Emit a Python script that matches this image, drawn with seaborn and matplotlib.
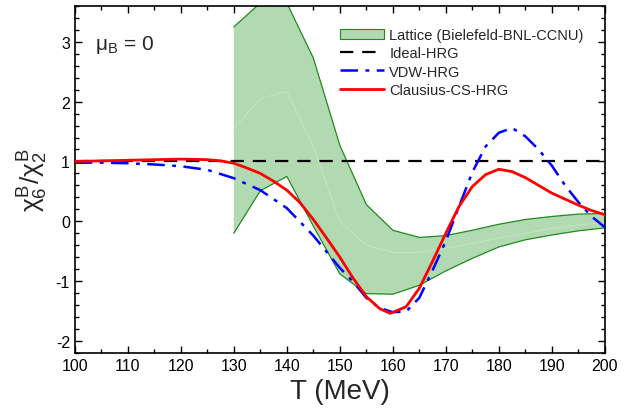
import numpy as np
import pandas as pd
import matplotlib
matplotlib.use("Agg")
import matplotlib.pyplot as plt
import seaborn as sns
from matplotlib.patches import Patch
from matplotlib.lines import Line2D
from matplotlib.ticker import MultipleLocator

# lattice band (Bielefeld-BNL-CCNU)
T_lat = [130, 135, 140, 145, 150, 155, 160, 165, 170, 175, 180, 185, 190, 195, 200]
lat_hi = [3.25, 3.65, 3.65, 2.73, 1.27, 0.28, -0.15, -0.27, -0.24, -0.15, -0.05, 0.03, 0.08, 0.12, 0.13]
lat_mid = [1.55, 2.05, 2.17, 1.25, 0.0, -0.4, -0.52, -0.52, -0.45, -0.37, -0.28, -0.2, -0.12, -0.06, -0.02]
lat_lo = [-0.2, 0.51, 0.75, -0.08, -0.88, -1.21, -1.22, -1.07, -0.83, -0.62, -0.43, -0.31, -0.23, -0.16, -0.11]

# HRG model curves
T_ideal = [100, 200]
ideal = [1.0, 1.0]

T_vdw = [100, 105, 110, 115, 120, 125, 130, 135, 140, 145, 150, 152.5, 155, 157.5, 160,
         162.5, 165, 167.5, 170, 172.5, 175, 177.5, 180, 182.5, 185, 187.5, 190, 192.5,
         195, 197.5, 200]
vdw = [0.98, 0.98, 0.97, 0.95, 0.92, 0.86, 0.72, 0.52, 0.22, -0.24, -0.78, -1.01, -1.28,
       -1.45, -1.52, -1.51, -1.28, -0.82, -0.33, 0.25, 0.82, 1.25, 1.48, 1.56, 1.42, 1.2,
       0.93, 0.6, 0.32, 0.08, -0.1]

T_cs = [100, 105, 110, 115, 120, 125, 127.5, 130, 132.5, 135, 137.5, 140, 142.5, 145,
        147.5, 150, 152.5, 155, 157.5, 159.5, 162.5, 165, 167.5, 170, 172.5, 175, 177.5,
        180, 182.5, 185, 187.5, 190, 192.5, 195, 197.5, 200]
cs = [1.0, 1.01, 1.02, 1.03, 1.04, 1.03, 1.01, 0.97, 0.89, 0.8, 0.67, 0.52, 0.31, 0.03,
      -0.28, -0.6, -0.95, -1.26, -1.46, -1.54, -1.43, -1.12, -0.67, -0.2, 0.25, 0.58, 0.78,
      0.87, 0.83, 0.73, 0.6, 0.47, 0.37, 0.27, 0.18, 0.11]

sns.set_style("ticks")
plt.rcParams["font.family"] = ["Liberation Sans", "DejaVu Sans"]
plt.rcParams["mathtext.fontset"] = "custom"
plt.rcParams["mathtext.rm"] = "Liberation Sans"
plt.rcParams["mathtext.it"] = "Liberation Sans"
plt.rcParams["axes.unicode_minus"] = False
plt.rcParams.update({
    "xtick.direction": "in", "ytick.direction": "in",
    "xtick.top": True, "ytick.right": True,
    "xtick.major.size": 5, "ytick.major.size": 5,
    "xtick.minor.size": 3, "ytick.minor.size": 3,
    "xtick.major.width": 1, "ytick.major.width": 1,
    "xtick.minor.width": 1, "ytick.minor.width": 1,
    "xtick.minor.visible": True, "ytick.minor.visible": True,
    "xtick.color": "black", "ytick.color": "black",
    "axes.edgecolor": "black",
})

fig = plt.figure(figsize=(6.34, 4.10), dpi=100)
ax = fig.add_axes([0.118, 0.137, 0.836, 0.846])

band_face = "#b2dab2"
band_edge = "#1f8a1f"
ax.fill_between(T_lat, lat_lo, lat_hi, facecolor=band_face, edgecolor="none", zorder=1)
ax.plot(T_lat, lat_mid, color="#c2e2c2", lw=0.8, zorder=1.5)
ax.plot(T_lat, lat_hi, color=band_edge, lw=0.9, zorder=2)
ax.plot(T_lat, lat_lo, color=band_edge, lw=0.9, zorder=2)

sns.lineplot(x=T_ideal, y=ideal, ax=ax, color="black", lw=1.6, zorder=3)
ax.lines[-1].set_dashes([6, 4])
sns.lineplot(x=T_vdw, y=vdw, ax=ax, color="#0000ff", lw=1.8, zorder=4)
ax.lines[-1].set_dashes([7, 3, 1.5, 3])
sns.lineplot(x=T_cs, y=cs, ax=ax, color="#ff0000", lw=2.0, zorder=5)

ax.set_xlim(100, 200)
ax.set_ylim(-2.2, 3.6)
ax.xaxis.set_major_locator(MultipleLocator(10))
ax.xaxis.set_minor_locator(MultipleLocator(5))
ax.yaxis.set_major_locator(MultipleLocator(1))
ax.yaxis.set_minor_locator(MultipleLocator(0.2))
ax.tick_params(which="both", direction="in", top=True, right=True, labelsize=11.5, color="black")
for s in ax.spines.values():
    s.set_linewidth(1.2)
    s.set_color("black")

ax.set_xlabel("T (MeV)", fontsize=20, labelpad=4)
ax.set_ylabel(r"$\chi_6^{\rm B}/\chi_2^{\rm B}$", fontsize=19, labelpad=4)
ax.text(0.038, 0.89, r"$\mu_{\rm B}$ = 0", transform=ax.transAxes, fontsize=15, va="center")

handles = [
    Patch(facecolor=band_face, edgecolor=band_edge, lw=0.8),
    Line2D([], [], color="black", lw=1.6, dashes=[6, 4]),
    Line2D([], [], color="#0000ff", lw=1.8, dashes=[7, 3, 1.5, 3]),
    Line2D([], [], color="#ff0000", lw=2.0),
]
labels = ["Lattice (Bielefeld-BNL-CCNU)", "Ideal-HRG", "VDW-HRG", "Clausius-CS-HRG"]
ax.legend(handles, labels, loc="upper right", bbox_to_anchor=(0.985, 0.975), frameon=False,
          fontsize=10.5, handlelength=3.0, handletextpad=0.4, labelspacing=0.3,
          borderaxespad=0.5)

fig.savefig("out.png", dpi=100)
